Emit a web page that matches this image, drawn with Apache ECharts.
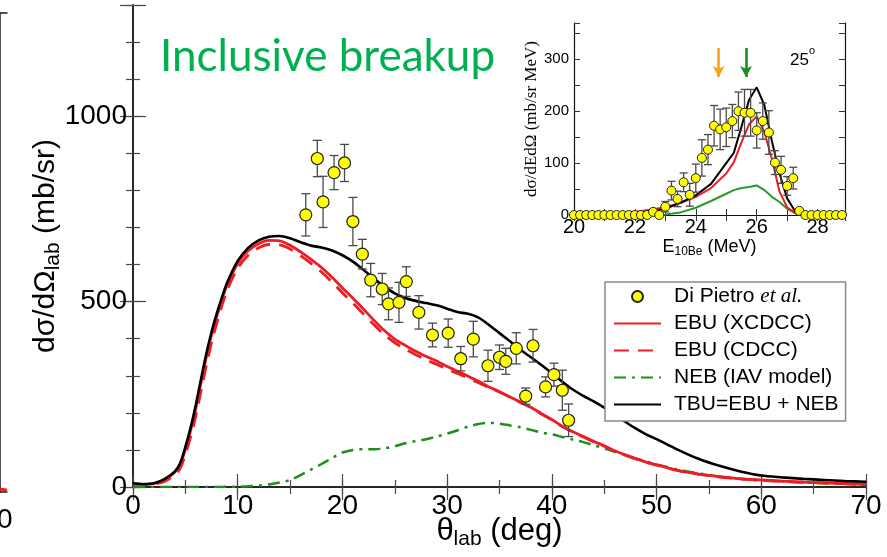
<!DOCTYPE html>
<html>
<head>
<meta charset="utf-8">
<script src="https://cdn.jsdelivr.net/npm/echarts@6/dist/echarts.min.js"></script>
<style>
  html, body { margin: 0; padding: 0; background: #fff; }
  #chart { width: 887px; height: 557px; }
</style>
</head>
<body>
<div id="chart"></div>
<script>
// ---- Angular distribution (main panel) ----
const thetaCurve = [0, 1, 2, 3, 4, 4.5, 5, 5.5, 6, 6.5, 7, 7.5, 8, 8.5, 9, 10, 11, 12, 13, 14, 15, 16, 17, 18, 19, 20,
  21, 22, 23, 24, 25, 26, 27, 28, 29, 30, 31, 32, 33, 34, 35, 36, 37, 38, 39, 40, 41, 42, 43, 44, 45, 46, 47, 48, 49, 50,
  52, 54, 56, 58, 60, 62, 64, 66, 68, 70];

const ebuXcdcc = [8, 7, 9, 19, 40, 60, 102, 152, 212, 282, 350, 410, 460, 505, 546, 603, 637, 656, 665, 664, 652, 634, 614, 592, 566, 537,
  509, 480, 450, 422, 399, 382, 366, 352, 340, 325, 312, 299, 285, 270, 257, 243, 229, 215, 198, 182, 164, 149, 136, 123, 111, 98, 87, 77, 67, 60,
  45, 35, 28, 22, 19, 16, 13, 11, 9, 7];

const ebuCdcc = [8, 7, 8, 15, 33, 50, 88, 135, 192, 260, 328, 390, 442, 490, 532, 590, 625, 645, 654, 653, 642, 624, 603, 580, 553, 524,
  496, 467, 438, 411, 389, 372, 357, 343, 331, 318, 306, 294, 281, 268, 256, 242, 228, 214, 197, 181, 163, 148, 135, 122, 110, 97, 86, 76, 67, 59,
  45, 35, 27, 22, 18, 15, 13, 11, 9, 7];

const nebIav = [0, 0, 0, 0, 0, 0, 0, 0, 0, 0, 0, 0, 0, 0, 1, 1, 2, 4, 7, 12, 19, 32, 47, 62, 78, 93,
  100, 102, 102, 104, 110, 118, 124, 129, 136, 144, 153, 163, 170, 173, 171, 166, 161, 154, 147, 142, 135, 128, 121, 113, 104, 95, 86, 77, 69, 61,
  47, 37, 28, 22, 18, 15, 12, 10, 8, 6];

const tbuTotal = [10, 8, 10, 21, 42, 64, 108, 160, 222, 292, 359, 418, 468, 512, 552, 610, 645, 665, 675, 677, 671, 660, 651, 646, 638, 625,
  608, 586, 562, 541, 522, 510, 502, 496, 490, 481, 472, 467, 457, 437, 415, 393, 370, 350, 329, 307, 284, 263, 246, 231, 214, 195, 176, 158, 142, 129,
  101, 76, 57, 42, 31, 26, 22, 19, 16, 14];

// Di Pietro et al. data
const thetaExp = [16.5, 17.6, 18.15, 19.2, 20.2, 21.0, 21.9, 22.7, 23.8, 24.4, 25.4, 26.1, 27.3, 28.6, 30.1, 31.3, 32.5, 33.9,
  35.0, 35.6, 36.6, 37.5, 38.2, 39.4, 40.2, 41.0, 41.6];
const sigmaExp = [734, 886, 769, 848, 874, 716, 628, 558, 534, 494, 498, 554, 471, 410, 415, 346, 399, 327,
  350, 339, 374, 245, 381, 270, 303, 261, 180];
const sigmaErr = [57, 49, 69, 46, 50, 65, 40, 45, 42, 43, 54, 40, 45, 32, 38, 33, 48, 42,
  33, 35, 42, 22, 44, 27, 31, 54, 44];

// ---- Energy distribution at 25 deg (inset) ----
const energyExp = [20.0, 20.2, 20.4, 20.6, 20.8, 21.0, 21.2, 21.4, 21.6, 21.8, 22.0, 22.2, 22.4, 22.6, 22.8,
  23.0, 23.2, 23.4, 23.6, 23.8, 24.0, 24.2, 24.4, 24.6, 24.8, 25.0, 25.2, 25.4, 25.6, 25.8,
  26.0, 26.2, 26.4, 26.6, 26.8, 27.0, 27.2, 27.4, 27.6, 27.8, 28.0, 28.2, 28.4, 28.6, 28.8];
const energyYield = [0, 0, 0, 0, 0, 0, 0, 0, 0, 0, 0, 0, 0, 6, 0,
  16, 47, 31, 63, 39, 71, 110, 126, 172, 165, 169, 181, 200, 197, 197,
  163, 181, 159, 101, 87, 56, 71, 8, 0, 0, 0, 0, 0, 0, 0];
const energyErr = [0, 0, 0, 0, 0, 0, 0, 0, 0, 0, 0, 0, 0, 5, 0,
  10, 18, 15, 18, 22, 27, 35, 29, 39, 39, 37, 32, 37, 45, 45,
  34, 35, 42, 23, 26, 18, 21, 4, 0, 0, 0, 0, 0, 0, 0];

const energyCurve = [20, 21, 22, 22.5, 23, 23.5, 24, 24.5, 25, 25.25, 25.5, 25.75, 26, 26.25, 26.5, 26.75, 27, 27.25, 27.5, 28, 28.9];
const insetTbu = [0, 1, 3, 6, 12, 24, 38, 60, 100, 120, 170, 222, 246, 212, 142, 80, 32, 8, 2, 0, 0];
const insetEbu = [1, 2, 6, 10, 15, 23, 35, 52, 80, 102, 140, 175, 190, 160, 108, 45, 15, 4, 1, 0, 0];
const insetNeb = [0, 0, 0, 0, 1, 5, 14, 27, 41, 48, 52, 54, 57, 48, 35, 25, 12, 4, 1, 0, 0];

// Beam-energy markers (MeV)
const markerEnergy = [24.75, 25.65];
const markerColors = ['#f7a21b', '#1f8a22'];

// Edge of the neighbouring panel
const neighborTheta = [0, 70];
const neighborValue = [0.08, 0.05];

const zip = (xs, ys) => xs.map((x, i) => [x, ys[i]]);

const SANS = '"Liberation Sans", Arial, sans-serif';
const SERIF = '"Liberation Serif", "Times New Roman", serif';
const RED = '#ee1c24';
const GREEN = '#1d8f1d';

function errorBars(capHalf) {
  return function (params, api) {
    const x = api.value(0), lo = api.value(1), hi = api.value(2);
    if (hi - lo <= 0) return { type: 'group', children: [] };
    const a = api.coord([x, lo]), b = api.coord([x, hi]);
    const style = { stroke: '#4a4a4a', lineWidth: 1.3 };
    return {
      type: 'group',
      children: [
        { type: 'line', shape: { x1: a[0], y1: a[1], x2: b[0], y2: b[1] }, style },
        { type: 'line', shape: { x1: a[0] - capHalf, y1: a[1], x2: a[0] + capHalf, y2: a[1] }, style },
        { type: 'line', shape: { x1: b[0] - capHalf, y1: b[1], x2: b[0] + capHalf, y2: b[1] }, style }
      ]
    };
  };
}

const frame = { show: true, lineStyle: { color: '#1a1a1a', width: 1.5 } };
const tick = (len) => ({ show: true, inside: true, length: len, lineStyle: { color: '#4a4a4a', width: 1.2 } });

function mainX(pos, interval, len, withLine, withLabels) {
  return {
    type: 'value', gridIndex: 0, position: pos, min: 0, max: 70, interval,
    axisLine: withLine ? frame : { show: false },
    axisTick: tick(len), splitLine: { show: false },
    axisLabel: withLabels ? {
      show: true, fontFamily: SANS, fontSize: 28, color: '#000', margin: 5,
      formatter: v => (v % 10 === 0 ? String(v) : '')
    } : { show: false }
  };
}
function mainY(pos, interval, len, withLine, withLabels) {
  return {
    type: 'value', gridIndex: 0, position: pos, min: 0, max: 1300, interval,
    axisLine: withLine ? frame : { show: false },
    axisTick: tick(len), splitLine: { show: false },
    axisLabel: withLabels ? {
      show: true, fontFamily: SANS, fontSize: 28, color: '#000', margin: 6,
      formatter: v => (v % 500 === 0 ? String(v) : '')
    } : { show: false }
  };
}

const insetLine = { show: true, lineStyle: { color: '#111', width: 1.2 } };
const insetTick = { show: true, inside: true, length: 6, lineStyle: { color: '#333', width: 1 } };

const xAxes = [
  Object.assign(mainX('bottom', 5, 7, true, true), {
    name: '{n|θ}{s|lab}{n| (deg)}', nameLocation: 'middle', nameGap: 29, nameMoveOverlap: false,
    nameTextStyle: {
      rich: {
        n: { fontFamily: SANS, fontSize: 31, color: '#000', lineHeight: 34, verticalAlign: 'top' },
        s: { fontFamily: SANS, fontSize: 21, color: '#000', lineHeight: 23, padding: [17, 0, 0, 0], verticalAlign: 'bottom' }
      }
    }
  }),
  mainX('bottom', 10, 13, false, false),
  mainX('top', 5, 7, true, false),
  mainX('top', 10, 13, false, false),
  {
    type: 'value', gridIndex: 1, position: 'bottom', min: 20, max: 28.9, interval: 1, z: 6,
    axisLine: insetLine, axisTick: insetTick, splitLine: { show: false },
    axisLabel: {
      fontFamily: SANS, fontSize: 20, color: '#000', margin: 2,
      formatter: v => (Math.abs(v % 2) < 1e-6 ? String(v) : '')
    },
    name: '{n|E}{s|10Be}{n| (MeV)}', nameLocation: 'middle', nameGap: 23, nameMoveOverlap: false,
    nameTextStyle: {
      rich: {
        n: { fontFamily: SANS, fontSize: 18, color: '#000', lineHeight: 20, verticalAlign: 'top' },
        s: { fontFamily: SANS, fontSize: 12, color: '#000', lineHeight: 14, padding: [10, 0, 0, 0], verticalAlign: 'bottom' }
      }
    }
  },
  {
    type: 'value', gridIndex: 1, position: 'top', min: 20, max: 28.9, interval: 1, z: 6,
    axisLine: insetLine, axisTick: insetTick, splitLine: { show: false }, axisLabel: { show: false }
  },
  {
    type: 'value', gridIndex: 2, position: 'bottom', min: 0, max: 70, interval: 70,
    axisLine: frame, axisTick: { show: false }, splitLine: { show: false },
    axisLabel: {
      fontFamily: SANS, fontSize: 28, color: '#000', margin: 14, showMinLabel: false,
      formatter: v => (v === 70 ? '{t|70}{g| }' : ''),
      rich: { t: { fontFamily: SANS, fontSize: 28, color: '#000' }, g: { width: 20 } }
    }
  },
  {
    type: 'value', gridIndex: 2, position: 'top', min: 0, max: 70,
    axisLine: frame, axisTick: { show: false }, splitLine: { show: false }, axisLabel: { show: false }
  }
];

const yAxes = [
  Object.assign(mainY('left', 100, 7, true, true), {
    name: '{n|dσ/dΩ}{s|lab}{n| (mb/sr)}', nameLocation: 'middle', nameGap: 69, nameMoveOverlap: false,
    nameTextStyle: {
      rich: {
        n: { fontFamily: SANS, fontSize: 30, color: '#000', lineHeight: 33, verticalAlign: 'top' },
        s: { fontFamily: SANS, fontSize: 21, color: '#000', lineHeight: 23, padding: [16, 0, 0, 0], verticalAlign: 'bottom' }
      }
    }
  }),
  mainY('left', 500, 13, false, false),
  mainY('right', 100, 7, true, false),
  mainY('right', 500, 13, false, false),
  {
    type: 'value', gridIndex: 1, position: 'left', min: 0, max: 370, interval: 50, z: 6,
    axisLine: insetLine, axisTick: insetTick, splitLine: { show: false },
    axisLabel: {
      fontFamily: SANS, fontSize: 15, color: '#000', margin: 5,
      formatter: v => (v % 100 === 0 ? String(v) : '')
    },
    name: 'dσ/dEdΩ (mb/sr MeV)', nameLocation: 'middle', nameGap: 34, nameMoveOverlap: false,
    nameTextStyle: { fontFamily: SERIF, fontSize: 17, color: '#000' }
  },
  {
    type: 'value', gridIndex: 1, position: 'right', min: 0, max: 370, interval: 50, z: 6,
    axisLine: insetLine, axisTick: insetTick, splitLine: { show: false }, axisLabel: { show: false }
  },
  {
    type: 'value', gridIndex: 2, position: 'right', min: 0, max: 13, interval: 1,
    axisLine: frame, axisTick: { show: true, inside: true, length: 12, lineStyle: { color: '#4a4a4a', width: 1.2 } },
    splitLine: { show: false }, axisLabel: { show: false }
  }
];

const lineLegendItem = name => ({ name, itemStyle: { opacity: 0 } });

const option = {
  animation: false,
  backgroundColor: '#fff',
  title: [
    {
      text: 'Inclusive breakup', left: 155, top: 30,
      textStyle: { color: '#00b050', fontFamily: 'Lato, "Open Sans", sans-serif', fontSize: 44, fontWeight: 'normal' }
    },
    {
      text: '{a|25}{b|o}', left: 785, top: 40, z: 8,
      textStyle: {
        fontWeight: 'normal',
        rich: {
          a: { fontFamily: SANS, fontSize: 17, fontWeight: 'normal', color: '#000', lineHeight: 24, verticalAlign: 'bottom' },
          b: { fontFamily: SANS, fontSize: 11, fontWeight: 'normal', color: '#000', lineHeight: 12, verticalAlign: 'top' }
        }
      }
    }
  ],
  grid: [
    { left: 133, right: 21, top: 5, bottom: 70, outerBoundsMode: 'none' },
    { left: 574, top: 23, width: 271, height: 192, show: true, backgroundColor: '#fff', borderWidth: 0, z: 5, outerBoundsMode: 'none' },
    { left: 0, width: 7, top: 13, height: 479, outerBoundsMode: 'none' }
  ],
  legend: {
    orient: 'vertical', left: 605, top: 282, z: 20,
    padding: [4, 7, 6, 8], itemGap: 6, itemWidth: 47, itemHeight: 11,
    backgroundColor: '#fff', borderColor: '#8a8a8a', borderWidth: 1.5,
    data: [
      { name: 'Di Pietro et al.' },
      lineLegendItem('EBU (XCDCC)'),
      lineLegendItem('EBU (CDCC)'),
      lineLegendItem('NEB (IAV model)'),
      lineLegendItem('TBU=EBU + NEB')
    ],
    formatter: name => (name === 'Di Pietro et al.'
      ? '{g| }{r|Di Pietro }{i|et al.}'
      : '{g| }{r|' + name + '}'),
    textStyle: {
      rich: {
        g: { width: 8 },
        r: { fontFamily: SANS, fontSize: 21, color: '#000' },
        i: { fontFamily: SERIF, fontSize: 21, fontStyle: 'italic', color: '#000' }
      }
    }
  },
  xAxis: xAxes,
  yAxis: yAxes,
  series: [
    {
      name: 'NEB (IAV model)', type: 'line', xAxisIndex: 0, yAxisIndex: 0, z: 2,
      data: zip(thetaCurve, nebIav), smooth: 0.3, showSymbol: false, symbol: 'none',
      lineStyle: { color: GREEN, width: 2.5, type: [12, 6, 3, 6] }, itemStyle: { color: GREEN }
    },
    {
      name: 'EBU (CDCC)', type: 'line', xAxisIndex: 0, yAxisIndex: 0, z: 2,
      data: zip(thetaCurve, ebuCdcc), smooth: 0.3, showSymbol: false, symbol: 'none',
      lineStyle: { color: RED, width: 2.8, type: [15, 9] }, itemStyle: { color: RED }
    },
    {
      name: 'EBU (XCDCC)', type: 'line', xAxisIndex: 0, yAxisIndex: 0, z: 2,
      data: zip(thetaCurve, ebuXcdcc), smooth: 0.3, showSymbol: false, symbol: 'none',
      lineStyle: { color: RED, width: 2.8 }, itemStyle: { color: RED }
    },
    {
      name: 'TBU=EBU + NEB', type: 'line', xAxisIndex: 0, yAxisIndex: 0, z: 2,
      data: zip(thetaCurve, tbuTotal), smooth: 0.3, showSymbol: false, symbol: 'none',
      lineStyle: { color: '#000', width: 2.6 }, itemStyle: { color: '#000' }
    },
    {
      name: 'main error bars', type: 'custom', xAxisIndex: 0, yAxisIndex: 0, z: 3,
      renderItem: errorBars(4.5), encode: { x: 0, y: [1, 2] },
      data: thetaExp.map((t, i) => [t, sigmaExp[i] - sigmaErr[i], sigmaExp[i] + sigmaErr[i]])
    },
    {
      name: 'Di Pietro et al.', type: 'scatter', xAxisIndex: 0, yAxisIndex: 0, z: 4,
      data: zip(thetaExp, sigmaExp), symbol: 'circle', symbolSize: 12,
      itemStyle: { color: '#ffff00', borderColor: '#222', borderWidth: 1.2, opacity: 1 }
    },
    // inset
    {
      name: 'inset NEB', type: 'line', xAxisIndex: 4, yAxisIndex: 4, z: 7,
      data: zip(energyCurve, insetNeb), showSymbol: false, symbol: 'none',
      lineStyle: { color: '#2a9a2a', width: 2 }
    },
    {
      name: 'inset EBU', type: 'line', xAxisIndex: 4, yAxisIndex: 4, z: 7,
      data: zip(energyCurve, insetEbu), showSymbol: false, symbol: 'none',
      lineStyle: { color: RED, width: 2 }
    },
    {
      name: 'inset TBU', type: 'line', xAxisIndex: 4, yAxisIndex: 4, z: 7,
      data: zip(energyCurve, insetTbu), showSymbol: false, symbol: 'none',
      lineStyle: { color: '#000', width: 2 }
    },
    {
      name: 'inset error bars', type: 'custom', xAxisIndex: 4, yAxisIndex: 4, z: 8,
      renderItem: errorBars(4), encode: { x: 0, y: [1, 2] },
      data: energyExp.map((e, i) => [e, energyYield[i] - energyErr[i], energyYield[i] + energyErr[i]])
    },
    {
      name: 'inset data', type: 'scatter', xAxisIndex: 4, yAxisIndex: 4, z: 9,
      data: zip(energyExp, energyYield), symbol: 'circle', symbolSize: 9,
      itemStyle: { color: '#ffff00', borderColor: '#222', borderWidth: 1, opacity: 1 },
      markLine: {
        silent: true, symbol: ['none', 'arrow'], symbolSize: [9, 11],
        label: { show: false }, emphasis: { disabled: true },
        data: markerEnergy.map((e, i) => [
          { coord: [e, 322], lineStyle: { color: markerColors[i], width: 2.6, type: 'solid' }, itemStyle: { color: markerColors[i] } },
          { coord: [e, 266] }
        ])
      }
    },
    // neighbouring panel edge
    {
      name: 'neighbor', type: 'line', xAxisIndex: 6, yAxisIndex: 6,
      data: zip(neighborTheta, neighborValue), showSymbol: false, symbol: 'none',
      lineStyle: { color: RED, width: 3 }
    }
  ]
};

const chart = echarts.init(document.getElementById('chart'), null, { renderer: 'canvas' });
chart.setOption(option);
</script>
</body>
</html>
